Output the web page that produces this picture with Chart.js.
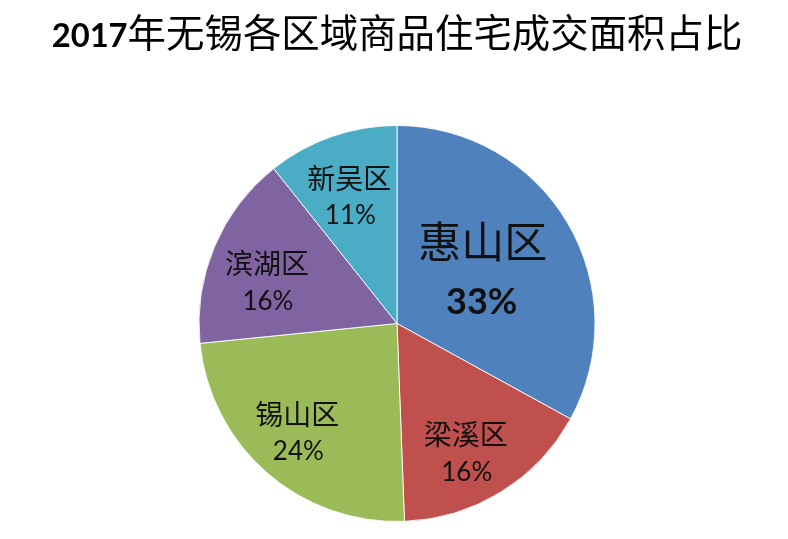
<!DOCTYPE html>
<html><head><meta charset="utf-8">
<script src="https://cdn.jsdelivr.net/npm/chart.js@4/dist/chart.umd.min.js"></script>
<style>html,body{margin:0;padding:0;background:#fff}#wrap{width:788px;height:539px;position:relative}</style>
</head><body><div id="wrap"><canvas id="c" width="788" height="539"></canvas></div>
<script>
// ---- data ----
const titleYear = '2017';
const titleRest = '年无锡各区域商品住宅成交面积占比';
const districts = ['惠山区', '梁溪区', '锡山区', '滨湖区', '新吴区'];
const shares = [33.0, 16.4, 24.0, 15.9, 10.7];
const shareLabels = ['33%', '16%', '24%', '16%', '11%'];
const sliceColors = ['#4F81BD', '#C0504D', '#9BBB59', '#8064A2', '#4BACC6'];

// ---- label placement styling (not data) ----
const labelRadiusFactor = [0.506, 0.74, 0.746, 0.69, 0.685];
const labelAngleShiftDeg = [-0.6, 3.7, 1.4, -5.1, -1.3];

const titlePlugin = {
  id: 'mixedTitle',
  beforeDraw(chart) {
    const ctx = chart.ctx;
    ctx.save();
    ctx.fillStyle = '#fff';
    ctx.fillRect(0, 0, chart.width, chart.height);
    // fit fonts to the reference widths
    let ySize = 33;
    ctx.font = 'bold ' + ySize + 'px Lato, "Liberation Sans", sans-serif';
    let w1 = ctx.measureText(titleYear).width;
    ySize = ySize * 76 / w1;
    const fYear = 'bold ' + ySize.toFixed(2) + 'px Lato, "Liberation Sans", sans-serif';
    ctx.font = fYear; w1 = ctx.measureText(titleYear).width;
    let rSize = 41;
    ctx.font = rSize + 'px "Noto Sans CJK SC", sans-serif';
    let w2 = ctx.measureText(titleRest).width;
    rSize = rSize * 615 / w2;
    const fRest = rSize.toFixed(2) + 'px "Noto Sans CJK SC", sans-serif';
    ctx.font = fRest; w2 = ctx.measureText(titleRest).width;
    const x0 = 397 - (w1 + w2) / 2;
    const by = 47;
    ctx.fillStyle = '#000';
    ctx.textBaseline = 'alphabetic';
    ctx.textAlign = 'left';
    ctx.font = fYear; ctx.fillText(titleYear, x0, by);
    ctx.font = fRest; ctx.fillText(titleRest, x0 + w1, by);
    ctx.restore();
  }
};

const labelPlugin = {
  id: 'sliceLabels',
  afterDatasetsDraw(chart) {
    const ctx = chart.ctx;
    const meta = chart.getDatasetMeta(0);
    ctx.save();
    ctx.textAlign = 'center';
    ctx.textBaseline = 'middle';
    ctx.fillStyle = '#111';
    meta.data.forEach((arc, i) => {
      const p = arc.getProps(['x', 'y', 'startAngle', 'endAngle', 'outerRadius'], true);
      const mid = (p.startAngle + p.endAngle) / 2 + labelAngleShiftDeg[i] * Math.PI / 180;
      const r = p.outerRadius * labelRadiusFactor[i];
      const cx = p.x + Math.cos(mid) * r;
      const cy = p.y + Math.sin(mid) * r;
      const big = i === 0;
      const half = big ? 29.5 : 18.5;
      ctx.font = (big ? '43px' : '28px') + ' "Noto Sans CJK SC", sans-serif';
      ctx.fillText(districts[i], cx, cy - half);
      ctx.font = (big ? 'bold 36px' : '26px') + ' Lato, "Liberation Sans", sans-serif';
      ctx.fillText(shareLabels[i], cx + (big ? -1 : 1), cy + half + 1);
    });
    ctx.restore();
  }
};

new Chart(document.getElementById('c'), {
  type: 'pie',
  data: {
    labels: districts,
    datasets: [{
      data: shares,
      backgroundColor: sliceColors,
      borderColor: 'rgba(255,255,255,0.85)',
      borderWidth: 1
    }]
  },
  options: {
    responsive: false,
    devicePixelRatio: 1,
    animation: false,
    layout: { padding: { top: 125, bottom: 17, left: 6, right: 0 } },
    plugins: {
      legend: { display: false },
      title: { display: false },
      tooltip: { enabled: false }
    }
  },
  plugins: [titlePlugin, labelPlugin]
});
</script>
</body></html>
